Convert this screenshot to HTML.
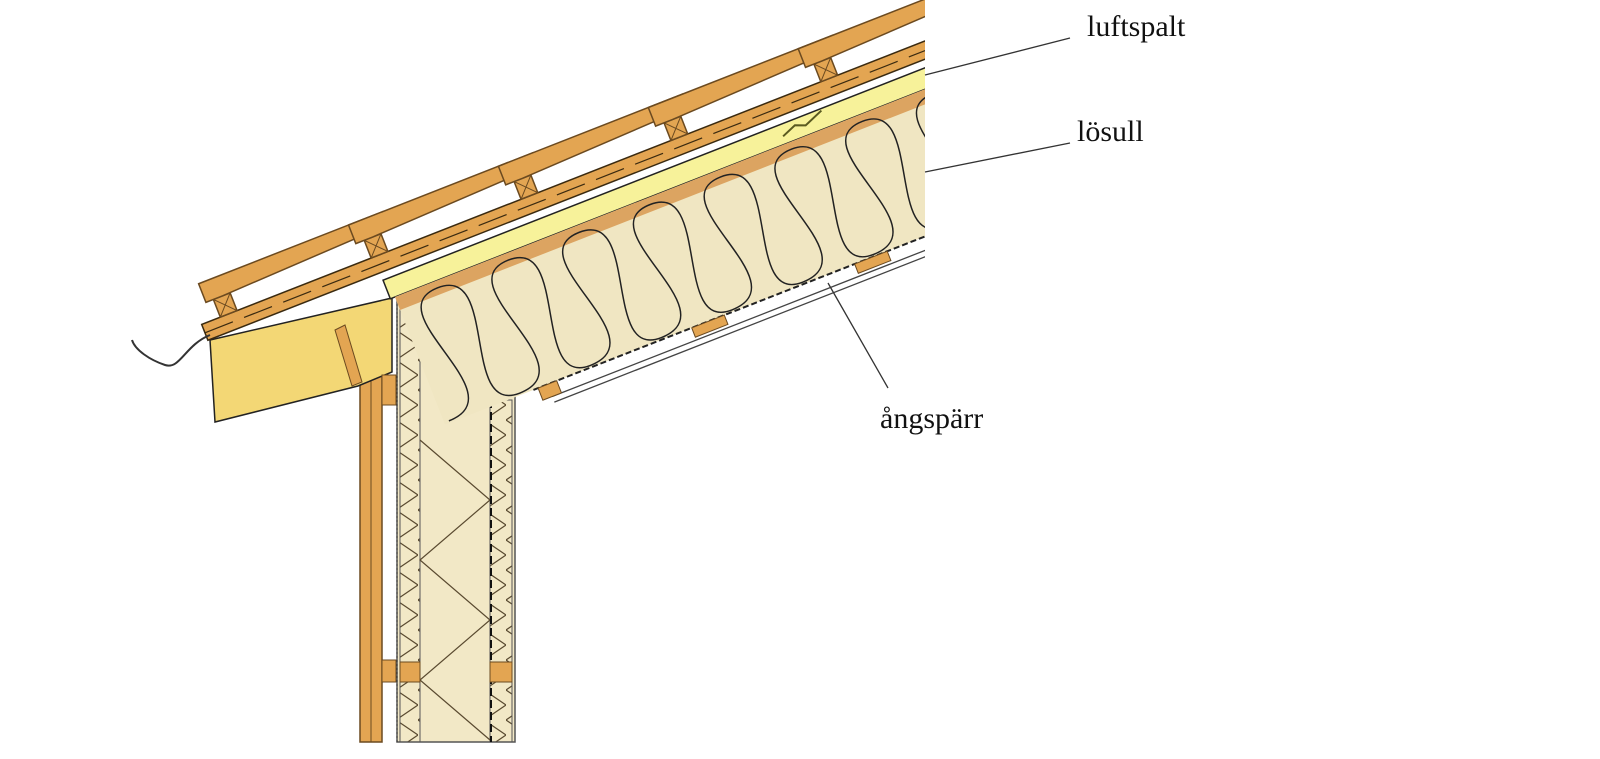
<!DOCTYPE html>
<html><head><meta charset="utf-8"><style>
html,body{margin:0;padding:0;background:#fff;width:1600px;height:759px;overflow:hidden}
svg{display:block}
text{font-family:"Liberation Serif",serif;font-size:30px;fill:#111}
</style></head><body>
<svg width="1600" height="759" viewBox="0 0 1600 759" xmlns="http://www.w3.org/2000/svg">
<defs>
<clipPath id="c"><rect x="0" y="0" width="925" height="759"/></clipPath>
<pattern id="xh" width="22" height="30" patternUnits="userSpaceOnUse">
<path d="M0 0 L22 15 L0 30" fill="none" stroke="#5a4a30" stroke-width="1.2"/>
</pattern>
</defs>
<g clip-path="url(#c)">
<rect x="360" y="370" width="22" height="372" fill="#e3a552" stroke="#6b4a20" stroke-width="1.5"/>
<line x1="371" y1="370" x2="371" y2="742" stroke="#6b4a20" stroke-width="1"/>
<rect x="382" y="660" width="14" height="22" fill="#e3a552" stroke="#6b4a20"/>
<rect x="397" y="300" width="118" height="442" fill="#f2e8c6" stroke="#555" stroke-width="1.5"/>
<rect x="400" y="300" width="20" height="442" fill="url(#xh)" stroke="#555" stroke-width="1"/>
<rect x="490" y="400" width="22" height="342" fill="url(#xh)" stroke="#555" stroke-width="1"/>
<path d="M420 440 L490 500 L420 560 L490 620 L420 680 L490 740" fill="none" stroke="#5a4a30" stroke-width="1.2"/>
<line x1="491" y1="400" x2="491" y2="742" stroke="#111" stroke-width="2" stroke-dasharray="8 4"/>
<rect x="400" y="662" width="20" height="20" fill="#e3a552" stroke="#6b4a20"/>
<rect x="490" y="662" width="22" height="20" fill="#e3a552" stroke="#6b4a20"/>
<line x1="397" y1="300" x2="397" y2="742" stroke="#333" stroke-width="1" stroke-dasharray="2 2"/>
<polygon points="210,340 392,298 392,372 358,386 215,422" fill="#f3d775" stroke="#222" stroke-width="1.5"/>
<polygon points="335,330 345,325 362,382 352,386" fill="#e3a552" stroke="#6b4a20"/>
<rect x="382" y="375" width="14" height="30" fill="#e3a552" stroke="#6b4a20"/>
<g transform="translate(395,297) rotate(-21.4)">
 <rect x="-5" y="-20" width="700" height="20" fill="#f7f29a" stroke="#222" stroke-width="1.5"/>
 <rect x="0" y="0" width="700" height="137" fill="#f0e6c2"/>
 <rect x="0" y="0" width="700" height="14" fill="#dca461"/>
 <path d="M5 135 c75 0 -30 -128 38 -128 c65 0 -25 128 38 128 c75 0 -30 -128 38 -128 c65 0 -25 128 38 128 c75 0 -30 -128 38 -128 c65 0 -25 128 38 128 c75 0 -30 -128 38 -128 c65 0 -25 128 38 128 c75 0 -30 -128 38 -128 c65 0 -25 128 38 128 c75 0 -30 -128 38 -128 c65 0 -25 128 38 128 c75 0 -30 -128 38 -128 c65 0 -25 128 38 128 c75 0 -30 -128 38 -128 c65 0 -25 128 38 128" fill="none" stroke="#222" stroke-width="1.5"/>
 <line x1="95" y1="137" x2="700" y2="137" stroke="#222" stroke-width="2" stroke-dasharray="6 3"/>
 <line x1="110" y1="150" x2="700" y2="150" stroke="#444" stroke-width="1.3"/>
 <line x1="110" y1="156" x2="700" y2="156" stroke="#444" stroke-width="1.3"/>
 <rect x="100" y="137" width="20" height="13" fill="#e3a552" stroke="#6b4a20"/>
 <rect x="265" y="137" width="35" height="10" fill="#e3a552" stroke="#6b4a20"/>
 <rect x="440" y="137" width="35" height="10" fill="#e3a552" stroke="#6b4a20"/>
 <rect x="-190" y="-45" width="800" height="17" fill="#e3a552" stroke="#3a2a10" stroke-width="1.5"/>
 <line x1="-190" y1="-36" x2="610" y2="-36" stroke="#3a2a10" stroke-width="1.2" stroke-dasharray="30 12"/>
 <g fill="#e3a552" stroke="#6b4a20" stroke-width="1.5">
  <rect x="-170" y="-64" width="18" height="19"/><rect x="-8" y="-64" width="18" height="19"/>
  <rect x="153" y="-64" width="18" height="19"/><rect x="314" y="-64" width="18" height="19"/>
  <rect x="475" y="-64" width="18" height="19"/>
  <path d="M-170 -64 l18 19 M-152 -64 l-18 19 M-8 -64 l18 19 M10 -64 l-18 19 M153 -64 l18 19 M171 -64 l-18 19 M314 -64 l18 19 M332 -64 l-18 19 M475 -64 l18 19 M493 -64 l-18 19" fill="none" stroke-width="1"/>
  <polygon points="-178,-84 20,-84 20,-70 -160,-64 -178,-64"/>
  <polygon points="-17,-84 181,-84 181,-70 1,-64 -17,-64"/>
  <polygon points="144,-84 342,-84 342,-70 162,-64 144,-64"/>
  <polygon points="305,-84 503,-84 503,-70 323,-64 305,-64"/>
  <polygon points="466,-84 664,-84 664,-70 484,-64 466,-64"/>
 </g>
 <path d="M420 -8 l15 -6 l10 4 l20 -8" fill="none" stroke="#5a5a20" stroke-width="2"/>
</g>
</g>
<path d="M210 335 C185 345 180 370 165 365 C150 360 135 350 132 340" fill="none" stroke="#333" stroke-width="2"/>
<line x1="1070" y1="38" x2="925" y2="75" stroke="#333" stroke-width="1.3"/>
<line x1="1070" y1="143" x2="925" y2="172" stroke="#333" stroke-width="1.3"/>
<line x1="888" y1="388" x2="828" y2="283" stroke="#333" stroke-width="1.3"/>
<text x="1087" y="36">luftspalt</text>
<text x="1077" y="141">lösull</text>
<text x="880" y="428">ångspärr</text>
</svg>
</body></html>
